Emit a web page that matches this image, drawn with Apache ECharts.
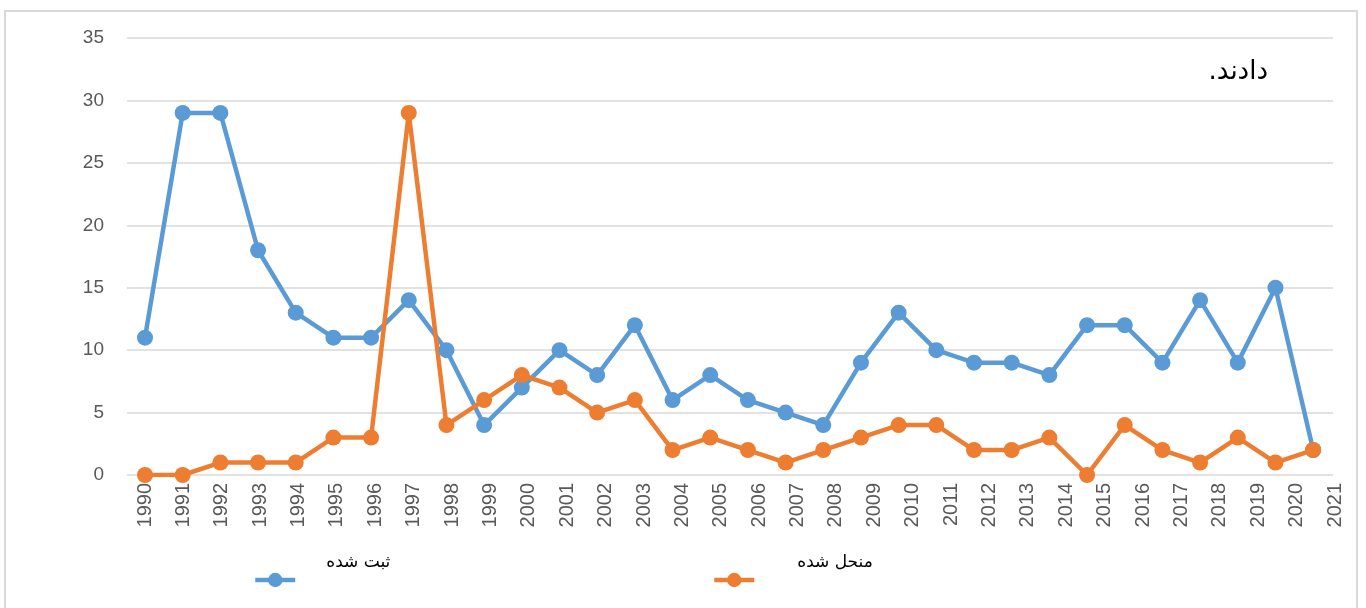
<!DOCTYPE html>
<html>
<head>
<meta charset="utf-8">
<script src="https://cdn.jsdelivr.net/npm/echarts@6/dist/echarts.min.js"></script>
<style>html,body{margin:0;padding:0;background:#fff}#c{width:1366px;height:608px}</style>
</head>
<body>
<div id="c"></div>
<script>
const years = ['1990','1991','1992','1993','1994','1995','1996','1997','1998','1999','2000','2001','2002','2003','2004','2005','2006','2007','2008','2009','2010','2011','2012','2013','2014','2015','2016','2017','2018','2019','2020','2021'];
const registered = [11,29,29,18,13,11,11,14,10,4,7,10,8,12,6,8,6,5,4,9,13,10,9,9,8,12,12,9,14,9,15,2];
const dissolved = [0,0,1,1,1,3,3,29,4,6,8,7,5,6,2,3,2,1,2,3,4,4,2,2,3,0,4,2,1,3,1,2];
const seriesNames = ['ثبت شده','منحل شده'];
const yTicks = {min:0, max:35, interval:5};
const noteText = 'دادند.';

const RLM = '\u200F';
const chart = echarts.init(document.getElementById('c'));
const labelFont = {color:'#595959', fontSize:20, fontFamily:'Liberation Sans, Arial, sans-serif'};
const legendText = (padLeft) => ({
  fontSize:17, color:'#000', fontFamily:'DejaVu Sans, sans-serif',
  lineHeight:34, padding:[0,0,0,padLeft]
});
chart.setOption({
  animation:false,
  backgroundColor:'#fff',
  graphic:[
    {type:'rect', shape:{x:5, y:11, width:1352, height:620}, style:{fill:'none', stroke:'#d9d9d9', lineWidth:2}, z:-1},
    {type:'text', style:{text:noteText + RLM, x:1268, y:72, align:'right', verticalAlign:'middle', fill:'#000', font:'26px "DejaVu Sans", sans-serif'}}
  ],
  grid:[
    {left:127, right:33, top:38, bottom:133},
    {left:145, right:31, top:38, bottom:133}
  ],
  xAxis:[
    {gridIndex:0, type:'value', min:0, max:1, show:false},
    {gridIndex:1, type:'category', data:years, boundaryGap:false,
      axisLine:{show:false}, axisTick:{show:false},
      axisLabel:Object.assign({rotate:90, margin:8, interval:0}, labelFont)},
    {gridIndex:1, type:'value', min:0, max:31.58, show:false}
  ],
  yAxis:[
    {gridIndex:0, type:'value', min:yTicks.min, max:yTicks.max, interval:yTicks.interval,
      axisLine:{show:false}, axisTick:{show:false},
      splitLine:{lineStyle:{color:'#d9d9d9', width:1.5}},
      axisLabel:Object.assign({margin:23}, labelFont, {fontSize:19})},
    {gridIndex:1, type:'value', min:yTicks.min, max:yTicks.max, interval:yTicks.interval, show:false, splitLine:{show:false}}
  ],
  legend:[
    {data:[seriesNames[0]], left:248, top:541, itemWidth:40, itemHeight:18, itemGap:0,
      lineStyle:{width:4.5}, formatter:(n)=>n + '\n ', textStyle:legendText(26)},
    {data:[seriesNames[1]], left:707, top:541, itemWidth:40, itemHeight:18, itemGap:0,
      lineStyle:{width:4.5}, formatter:(n)=>n + '\n ', textStyle:legendText(38)}
  ],
  series:[
    {name:seriesNames[0], type:'line', xAxisIndex:2, yAxisIndex:1,
      data:registered.map((v,i)=>[i,v]), symbol:'circle', symbolSize:16,
      lineStyle:{color:'#5B9BD5', width:4.5}, itemStyle:{color:'#5B9BD5'}},
    {name:seriesNames[1], type:'line', xAxisIndex:2, yAxisIndex:1,
      data:dissolved.map((v,i)=>[i,v]), symbol:'circle', symbolSize:16,
      lineStyle:{color:'#ED7D31', width:4.5}, itemStyle:{color:'#ED7D31'}}
  ]
});
</script>
</body>
</html>
